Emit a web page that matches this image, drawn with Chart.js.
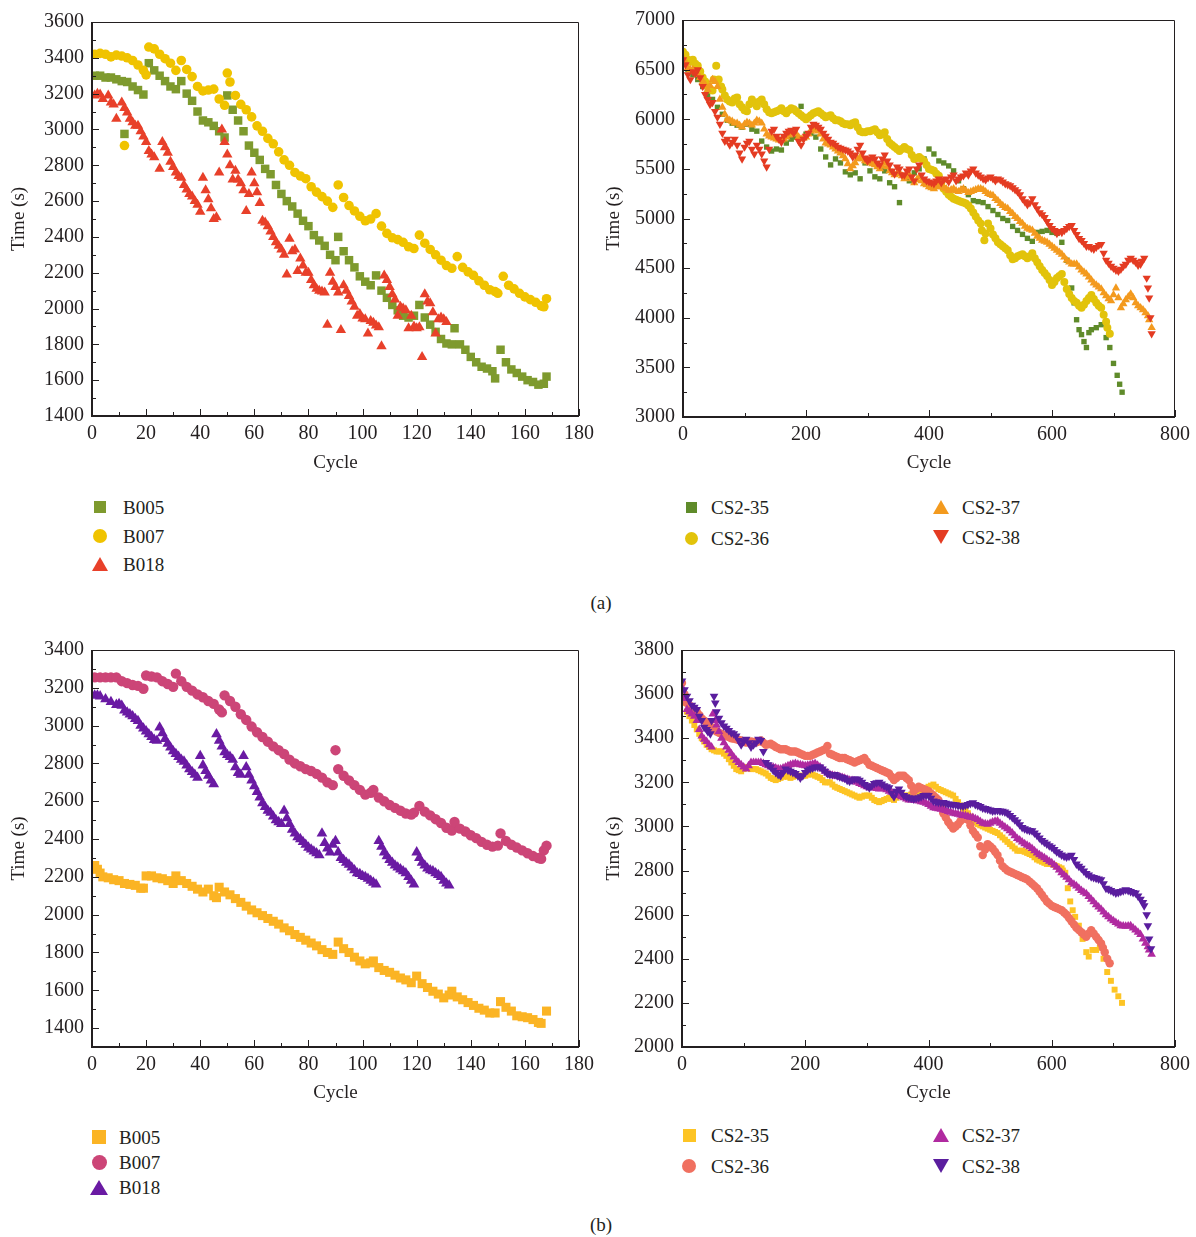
<!DOCTYPE html>
<html>
<head>
<meta charset="utf-8">
<title>Discharge time vs cycle</title>
<script src="https://cdn.jsdelivr.net/npm/chart.js@4.4.1/dist/chart.umd.min.js"></script>
<style>
  body { margin: 0; background: #fff; }
  #page { position: relative; width: 1196px; height: 1237px; font-family: "Liberation Serif", "Times New Roman", serif; color: #231f20; overflow: hidden; }
  #page canvas { position: absolute; }
  .lg { position: absolute; font-size: 19px; line-height: 1; white-space: nowrap; transform: translateY(-50%); }
  .mk { position: absolute; }
  .tag { position: absolute; font-size: 19px; transform: translate(-50%, -50%); }
</style>
</head>
<body>
<div id="page">
  <canvas id="chartA1" width="600" height="480" style="left:0;top:0"></canvas>
  <canvas id="chartA2" width="596" height="480" style="left:600px;top:0"></canvas>
  <canvas id="chartB1" width="600" height="480" style="left:0;top:630px"></canvas>
  <canvas id="chartB2" width="596" height="480" style="left:600px;top:630px"></canvas>
  <div class="tag" style="left:601px;top:603px">(a)</div>
  <div class="tag" style="left:601px;top:1225px">(b)</div>
</div>
<script>
// discharge time per cycle, [cycle, seconds]

// (a) NASA cells
const b005a = [[1,3300],[3,3300],[5,3290],[7,3290],[9,3280],[11,3270],[12,2975],[13,3265],[15,3240],[17,3220],[19,3195],[21,3370],[23,3330],[25,3300],[27,3270],[29,3240],[31,3225],[33,3270],[35,3200],[37,3160],[39,3100],[41,3050],[43,3040],[45,3020],[47,2990],[49,2955],[50,3190],[52,3110],[54,3050],[56,2990],[58,2910],[60,2870],[62,2830],[64,2780],[66,2750],[68,2690],[70,2640],[72,2600],[74,2570],[76,2530],[78,2490],[80,2460],[82,2410],[84,2380],[86,2350],[88,2300],[90,2270],[91,2400],[93,2320],[95,2270],[97,2230],[99,2180],[101,2150],[103,2130],[105,2185],[107,2100],[109,2060],[111,2020],[113,1990],[115,1960],[117,1950],[119,1960],[121,2020],[123,1950],[125,1910],[127,1870],[129,1830],[131,1805],[133,1800],[134,1890],[136,1800],[138,1770],[140,1730],[142,1700],[144,1675],[146,1665],[148,1650],[149,1610],[151,1770],[153,1700],[155,1660],[157,1640],[159,1620],[161,1600],[163,1590],[165,1575],[167,1580],[168,1620]];
const b007a = [[1,3420],[3,3425],[5,3420],[7,3405],[9,3415],[11,3410],[12,2910],[13,3400],[15,3385],[17,3360],[19,3330],[20,3305],[21,3460],[23,3450],[25,3420],[27,3395],[29,3370],[31,3330],[33,3385],[35,3335],[37,3295],[39,3240],[41,3215],[43,3220],[45,3225],[47,3170],[49,3135],[50,3315],[51,3265],[53,3190],[55,3140],[57,3110],[59,3070],[61,3020],[63,2990],[65,2950],[67,2920],[69,2875],[71,2830],[73,2800],[75,2760],[77,2740],[79,2725],[81,2680],[83,2650],[85,2625],[87,2600],[89,2565],[91,2690],[93,2620],[95,2575],[97,2545],[99,2515],[101,2490],[103,2500],[105,2530],[107,2460],[109,2420],[111,2395],[113,2385],[115,2370],[117,2345],[119,2335],[121,2410],[123,2365],[125,2330],[127,2300],[129,2270],[131,2240],[133,2225],[135,2290],[137,2230],[139,2205],[141,2185],[143,2155],[145,2130],[147,2105],[149,2095],[150,2085],[152,2180],[154,2130],[156,2110],[158,2085],[160,2065],[162,2050],[164,2035],[166,2015],[167,2010],[168,2055]];
const b018a = [[1,3190],[2,3200],[3,3195],[4,3170],[6,3190],[7,3150],[8,3140],[9,3060],[11,3150],[12,3120],[13,3095],[14,3060],[15,3040],[16,3020],[17,3020],[18,2990],[19,2960],[20,2930],[21,2880],[22,2860],[23,2845],[25,2780],[26,2930],[27,2900],[28,2870],[29,2820],[30,2790],[31,2760],[32,2740],[33,2730],[34,2690],[35,2665],[36,2640],[37,2625],[38,2600],[39,2580],[40,2540],[41,2730],[42,2660],[43,2610],[44,2560],[45,2500],[46,2510],[47,2760],[48,3000],[49,2930],[50,2860],[51,2800],[52,2720],[53,2770],[54,2720],[55,2700],[56,2660],[57,2545],[58,2640],[59,2760],[60,2700],[61,2650],[62,2590],[63,2490],[64,2480],[65,2460],[66,2430],[67,2400],[68,2370],[69,2350],[70,2330],[71,2300],[72,2190],[73,2390],[74,2320],[75,2330],[76,2210],[77,2280],[78,2240],[79,2200],[80,2200],[81,2160],[82,2130],[83,2110],[84,2100],[85,2095],[86,2090],[87,1910],[88,2200],[89,2150],[90,2120],[91,2090],[92,1880],[93,2130],[94,2100],[95,2070],[96,2040],[97,2010],[98,1960],[99,1970],[100,1945],[101,1940],[102,1860],[103,1930],[104,1920],[105,1905],[106,1895],[107,1790],[108,2185],[109,2160],[110,2120],[111,2080],[112,2050],[113,1960],[114,2010],[115,2000],[116,1990],[117,1890],[118,1960],[119,1900],[120,1890],[121,1895],[122,1730],[123,2080],[124,2040],[125,2030],[126,1980],[127,1860],[128,1940],[129,1950],[130,1940],[131,1925]];

// (a) CALCE cells
const cs35a = [[0,6580],[8,6500],[16,6450],[24,6400],[32,6330],[40,6250],[48,6200],[56,6120],[64,6050],[72,5990],[80,5960],[88,5940],[96,5920],[104,5950],[112,5900],[120,5880],[128,5780],[136,5720],[144,5680],[152,5700],[160,5690],[168,5760],[176,5800],[184,5820],[192,6130],[200,5850],[208,5860],[216,5820],[224,5700],[232,5620],[240,5540],[248,5600],[256,5560],[264,5470],[272,5440],[280,5460],[288,5400],[296,5560],[304,5480],[312,5420],[320,5400],[328,5480],[336,5360],[344,5320],[352,5160],[360,5420],[368,5380],[376,5460],[384,5500],[392,5600],[400,5700],[408,5650],[416,5580],[424,5560],[432,5530],[440,5480],[448,5380],[456,5300],[464,5240],[472,5180],[480,5170],[488,5160],[496,5120],[504,5080],[512,5040],[520,5000],[528,4980],[536,4920],[544,4880],[552,4840],[560,4800],[568,4770],[576,4860],[584,4870],[592,4880],[600,4860],[608,4850],[616,4760],[624,4580],[632,4300],[636,4150],[640,3980],[644,3880],[648,3830],[652,3760],[656,3700],[660,3850],[664,3880],[672,3900],[680,3930],[688,3800],[694,3700],[700,3540],[706,3420],[710,3330],[714,3250]];
const cs36a = [[0,6680],[8,6600],[16,6600],[24,6540],[32,6420],[40,6330],[48,6290],[54,6540],[58,6400],[64,6300],[72,6200],[80,6170],[88,6220],[96,6120],[104,6080],[112,6200],[120,6130],[128,6200],[136,6100],[144,6060],[152,6080],[160,6110],[168,6060],[176,6110],[184,6080],[192,6040],[200,6000],[208,6040],[216,6070],[224,6060],[232,6020],[240,6040],[248,5990],[256,5980],[264,5950],[272,5940],[280,5970],[288,5880],[296,5870],[304,5880],[312,5900],[320,5840],[328,5870],[336,5760],[344,5720],[352,5680],[360,5720],[368,5690],[376,5600],[384,5620],[392,5580],[400,5500],[408,5480],[416,5430],[424,5300],[432,5240],[440,5200],[448,5180],[456,5160],[464,5130],[472,5060],[480,4980],[486,4880],[490,4780],[496,4950],[504,4840],[512,4760],[520,4720],[528,4680],[536,4590],[544,4620],[552,4640],[560,4600],[568,4650],[576,4560],[584,4480],[592,4420],[600,4330],[608,4400],[616,4440],[624,4290],[632,4200],[640,4150],[648,4100],[656,4170],[664,4230],[672,4150],[680,4100],[688,3960],[694,3840],
  [4,6650],[12,6580],[20,6560],[28,6480],[36,6380],[44,6300],[50,6400],[62,6330],[68,6240],[76,6180],[84,6210],[92,6150],[100,6090],[108,6150],[116,6170],[124,6180],[132,6150],[140,6070],[148,6070],[156,6090],[164,6080],[172,6090],[180,6100],[188,6060],[196,6020],[204,6020],[212,6060],[220,6080],[228,6040],[236,6030],[244,6010],[252,5990],[260,5960],[268,5950],[276,5960],[284,5920],[292,5870],[300,5880],[308,5890],[316,5870],[324,5850],[332,5800],[340,5740],[348,5700],[356,5700],[364,5700],[372,5640],[380,5610],[388,5600],[396,5540],[404,5490],[412,5450],[420,5360],[428,5270],[436,5220],[444,5190],[452,5170],[460,5150],[468,5100],[476,5020],[484,4950],[492,4850],[500,4900],[508,4800],[516,4740],[524,4700],[532,4630],[540,4600],[548,4630],[556,4620],[564,4620],[572,4600],[580,4520],[588,4450],[596,4380],[604,4360],[612,4420],[620,4360],[628,4240],[636,4170],[644,4120],[652,4130],[660,4200],[668,4190],[676,4120],[684,4030],[690,3900]];
const cs37a = [[0,6620],[8,6520],[16,6500],[24,6450],[32,6380],[40,6300],[48,6400],[56,6330],[64,6120],[72,6000],[80,5980],[88,5960],[96,5920],[104,5970],[112,5940],[120,5990],[128,5960],[136,5850],[144,5820],[152,5800],[160,5790],[168,5820],[176,5860],[184,5850],[192,5800],[200,5820],[208,5880],[216,5900],[224,5850],[232,5760],[240,5740],[248,5700],[256,5660],[264,5600],[272,5500],[280,5560],[288,5620],[296,5580],[304,5560],[312,5540],[320,5500],[328,5560],[336,5480],[344,5440],[352,5460],[360,5400],[368,5440],[376,5360],[384,5420],[392,5350],[400,5320],[408,5300],[416,5340],[424,5310],[432,5280],[440,5300],[448,5270],[456,5300],[464,5260],[472,5280],[480,5300],[488,5290],[496,5250],[504,5230],[512,5180],[520,5130],[528,5100],[536,5050],[544,5000],[552,4950],[560,4900],[568,4880],[576,4820],[584,4780],[592,4760],[600,4720],[608,4680],[616,4640],[624,4580],[632,4540],[640,4540],[648,4480],[656,4440],[664,4380],[672,4330],[680,4290],[688,4220],[696,4170],[704,4300],[712,4100],[720,4180],[728,4240],[736,4150],[744,4100],[752,4050],[758,3980],[762,3900],
  [4,6580],[12,6500],[20,6480],[28,6420],[36,6350],[44,6340],[52,6380],[60,6200],[68,6050],[76,5990],[84,5960],[92,5940],[100,5950],[108,5960],[116,5960],[124,5980],[132,5900],[140,5830],[148,5810],[156,5790],[164,5800],[172,5840],[180,5860],[188,5820],[196,5810],[204,5850],[212,5890],[220,5880],[228,5800],[236,5750],[244,5720],[252,5680],[260,5630],[268,5550],[276,5530],[284,5600],[292,5600],[300,5570],[308,5550],[316,5520],[324,5530],[332,5520],[340,5460],[348,5450],[356,5430],[364,5420],[372,5400],[380,5390],[388,5380],[396,5340],[404,5310],[412,5320],[420,5320],[428,5300],[436,5290],[444,5280],[452,5290],[460,5280],[468,5270],[476,5290],[484,5300],[492,5270],[500,5240],[508,5200],[516,5150],[524,5110],[532,5070],[540,5020],[548,4970],[556,4920],[564,4890],[572,4850],[580,4800],[588,4770],[596,4740],[604,4700],[612,4660],[620,4610],[628,4560],[636,4540],[644,4510],[652,4460],[660,4410],[668,4350],[676,4310],[684,4250],[692,4190],[700,4230],[708,4200],[716,4140],[724,4210],[732,4200],[740,4120],[748,4080],[756,4020]];
const cs38a = [[0,6600],[8,6450],[16,6480],[24,6500],[32,6330],[40,6200],[48,6170],[56,6020],[64,5860],[72,5800],[80,5770],[88,5740],[96,5600],[104,5760],[112,5700],[120,5740],[128,5650],[136,5520],[144,5880],[152,5830],[160,5770],[168,5860],[176,5890],[184,5900],[192,5740],[200,5830],[208,5920],[216,5940],[224,5900],[232,5830],[240,5770],[248,5740],[256,5710],[264,5690],[272,5660],[280,5640],[288,5740],[296,5610],[304,5600],[312,5600],[320,5540],[328,5640],[336,5540],[344,5450],[352,5500],[360,5440],[368,5500],[376,5380],[384,5540],[392,5400],[400,5370],[408,5350],[416,5400],[424,5390],[432,5370],[440,5440],[448,5400],[456,5430],[464,5440],[472,5500],[480,5440],[488,5400],[496,5410],[504,5400],[512,5400],[520,5370],[528,5340],[536,5310],[544,5270],[552,5200],[560,5140],[568,5200],[576,5100],[584,5040],[592,4970],[600,4900],[608,4850],[616,4860],[624,4900],[632,4930],[640,4840],[648,4780],[656,4720],[664,4700],[672,4710],[680,4740],[688,4580],[696,4520],[704,4480],[712,4490],[720,4540],[728,4600],[736,4560],[744,4540],[750,4600],[754,4400],[756,4300],[758,4200],[760,4000],[762,3840],
  [4,6550],[12,6400],[20,6460],[28,6420],[36,6250],[44,6150],[52,6080],[60,5950],[68,5780],[76,5740],[84,5800],[92,5660],[100,5720],[108,5780],[116,5650],[124,5700],[132,5580],[140,5700],[148,5900],[156,5800],[164,5830],[172,5880],[180,5860],[188,5780],[196,5800],[204,5860],[212,5950],[220,5920],[228,5860],[236,5800],[244,5760],[252,5720],[260,5700],[268,5680],[276,5620],[284,5700],[292,5660],[300,5580],[308,5620],[316,5560],[324,5600],[332,5580],[340,5480],[348,5520],[356,5440],[364,5480],[372,5420],[380,5500],[388,5440],[396,5380],[404,5360],[412,5380],[420,5360],[428,5400],[436,5420],[444,5380],[452,5420],[460,5460],[468,5480],[476,5460],[484,5420],[492,5390],[500,5420],[508,5380],[516,5390],[524,5350],[532,5330],[540,5290],[548,5240],[556,5170],[564,5160],[572,5140],[580,5060],[588,5010],[596,4930],[604,4880],[612,4870],[620,4880],[628,4920],[636,4880],[644,4800],[652,4750],[660,4720],[668,4690],[676,4730],[684,4650],[692,4550],[700,4500],[708,4470],[716,4520],[724,4580],[732,4580],[740,4530],[746,4570]];

// (b) NASA cells
const b005b = [[1,2260],[2,2240],[3,2220],[4,2200],[6,2195],[8,2185],[10,2180],[12,2165],[14,2160],[16,2155],[18,2140],[19,2140],[20,2205],[22,2205],[24,2195],[26,2190],[28,2180],[30,2165],[31,2205],[33,2180],[35,2165],[37,2150],[39,2135],[41,2120],[43,2135],[45,2100],[46,2090],[47,2145],[49,2120],[51,2105],[53,2085],[55,2065],[57,2045],[59,2025],[61,2010],[63,1995],[65,1980],[67,1965],[69,1950],[71,1930],[73,1915],[75,1895],[77,1880],[79,1865],[81,1850],[83,1835],[85,1815],[87,1800],[89,1790],[91,1855],[93,1820],[95,1800],[97,1775],[99,1755],[101,1740],[103,1745],[104,1755],[106,1720],[108,1705],[110,1695],[112,1680],[114,1665],[116,1655],[118,1640],[120,1675],[122,1635],[124,1615],[126,1595],[128,1580],[130,1560],[132,1575],[133,1595],[135,1565],[137,1550],[139,1535],[141,1520],[143,1505],[145,1495],[147,1480],[149,1480],[151,1540],[153,1510],[155,1490],[157,1465],[159,1460],[161,1455],[163,1445],[165,1430],[166,1425],[168,1490]];
const b007b = [[1,3255],[3,3255],[5,3255],[7,3255],[9,3255],[11,3235],[13,3225],[15,3215],[17,3210],[19,3195],[20,3265],[22,3260],[24,3255],[26,3235],[28,3220],[30,3205],[31,3275],[33,3235],[35,3205],[37,3185],[39,3165],[41,3150],[43,3130],[45,3115],[47,3085],[48,3070],[49,3160],[51,3130],[53,3100],[55,3060],[57,3030],[59,2995],[61,2965],[63,2940],[65,2915],[67,2890],[69,2870],[71,2850],[73,2820],[75,2800],[77,2785],[79,2770],[81,2760],[83,2745],[85,2725],[87,2700],[89,2685],[90,2870],[91,2770],[93,2735],[95,2710],[97,2685],[99,2660],[101,2635],[103,2645],[104,2660],[106,2620],[108,2600],[110,2580],[112,2565],[114,2550],[116,2535],[118,2530],[119,2540],[121,2575],[123,2545],[125,2525],[127,2505],[129,2485],[131,2460],[133,2445],[134,2490],[136,2455],[138,2440],[140,2420],[142,2405],[144,2385],[146,2370],[148,2360],[150,2365],[151,2430],[153,2390],[155,2370],[157,2355],[159,2340],[161,2325],[163,2310],[165,2300],[166,2295],[167,2340],[168,2365]];
const b018b = [[1,3160],[2,3160],[3,3155],[5,3140],[7,3125],[9,3110],[10,3115],[11,3105],[12,3080],[13,3070],[14,3060],[15,3050],[16,3035],[17,3025],[18,3000],[19,2985],[20,2970],[21,2955],[22,2940],[23,2925],[24,2920],[25,2990],[26,2960],[27,2930],[28,2905],[29,2885],[30,2865],[31,2850],[32,2835],[33,2820],[34,2810],[35,2790],[36,2770],[37,2755],[38,2740],[39,2725],[40,2840],[41,2790],[42,2760],[43,2735],[44,2710],[45,2690],[46,2955],[47,2920],[48,2890],[49,2860],[50,2845],[51,2835],[52,2820],[53,2780],[54,2750],[55,2740],[56,2840],[57,2780],[58,2740],[59,2710],[60,2680],[61,2650],[62,2620],[63,2590],[64,2570],[65,2550],[66,2540],[67,2520],[68,2500],[69,2490],[70,2480],[71,2550],[72,2510],[73,2480],[74,2450],[75,2430],[76,2410],[77,2400],[78,2385],[79,2370],[80,2355],[81,2345],[82,2335],[83,2325],[84,2315],[85,2430],[86,2380],[87,2350],[88,2330],[89,2370],[90,2390],[91,2330],[92,2300],[93,2290],[94,2275],[95,2265],[96,2250],[97,2235],[98,2220],[99,2215],[100,2205],[101,2200],[102,2190],[103,2180],[104,2170],[105,2160],[106,2390],[107,2360],[108,2330],[109,2310],[110,2290],[111,2275],[112,2260],[113,2250],[114,2240],[115,2230],[116,2220],[117,2200],[118,2180],[119,2160],[120,2330],[121,2300],[122,2275],[123,2260],[124,2245],[125,2235],[126,2230],[127,2220],[128,2210],[129,2200],[130,2180],[131,2165],[132,2155]];

// (b) CALCE cells
const cs35b = [[0,3600],[8,3520],[16,3480],[24,3440],[32,3400],[40,3370],[48,3350],[56,3340],[64,3340],[72,3320],[80,3290],[88,3260],[96,3250],[104,3270],[112,3260],[120,3260],[128,3250],[136,3240],[144,3220],[152,3210],[160,3220],[168,3230],[176,3220],[184,3230],[192,3230],[200,3230],[208,3240],[216,3230],[224,3220],[232,3200],[240,3200],[248,3180],[256,3170],[264,3160],[272,3150],[280,3140],[288,3130],[296,3140],[304,3140],[312,3120],[320,3110],[328,3120],[336,3130],[344,3120],[352,3140],[360,3140],[368,3140],[376,3150],[384,3140],[392,3160],[400,3180],[408,3190],[416,3170],[424,3160],[432,3150],[440,3140],[448,3110],[456,3080],[464,3060],[472,3030],[480,3010],[488,3000],[496,2990],[504,2980],[512,2970],[520,2950],[528,2930],[536,2910],[544,2890],[552,2890],[560,2880],[568,2870],[576,2850],[584,2840],[592,2830],[600,2830],[608,2820],[616,2810],[622,2790],[626,2720],[630,2660],[634,2620],[638,2590],[644,2550],[650,2490],[656,2430],[660,2410],[666,2440],[672,2440],[678,2450],[684,2400],[690,2340],[696,2300],[702,2260],[708,2230],[714,2200],
  [4,3560],[12,3500],[20,3460],[28,3420],[36,3385],[44,3360],[52,3345],[60,3340],[68,3330],[76,3305],[84,3275],[92,3255],[100,3260],[108,3265],[116,3260],[124,3255],[132,3245],[140,3230],[148,3215],[156,3215],[164,3225],[172,3225],[180,3225],[188,3230],[196,3230],[204,3235],[212,3235],[220,3225],[228,3210],[236,3200],[244,3190],[252,3175],[260,3165],[268,3155],[276,3145],[284,3135],[292,3135],[300,3140],[308,3130],[316,3115],[324,3115],[332,3125],[340,3125],[348,3130],[356,3140],[364,3140],[372,3145],[380,3145],[388,3150],[396,3170],[404,3185],[412,3180],[420,3165],[428,3155],[436,3145],[444,3125],[452,3095],[460,3070],[468,3045],[476,3020],[484,3005],[492,2995],[500,2985],[508,2975],[516,2960],[524,2940],[532,2920],[540,2900],[548,2890],[556,2885],[564,2875],[572,2860],[580,2845],[588,2835],[596,2830],[604,2825],[612,2815],[618,2800]];
const cs36b = [[0,3650],[8,3560],[16,3540],[24,3520],[32,3490],[40,3470],[48,3450],[56,3430],[64,3420],[72,3410],[80,3400],[88,3395],[96,3390],[104,3380],[112,3385],[120,3380],[128,3390],[136,3370],[144,3375],[152,3360],[160,3350],[168,3350],[176,3340],[184,3340],[192,3330],[200,3320],[208,3320],[216,3330],[224,3340],[232,3350],[240,3330],[248,3320],[256,3310],[264,3310],[272,3300],[280,3290],[288,3300],[296,3310],[304,3280],[312,3270],[320,3260],[328,3250],[336,3240],[344,3210],[352,3230],[360,3230],[368,3210],[376,3160],[384,3180],[392,3170],[400,3160],[408,3140],[416,3120],[424,3060],[432,3020],[440,2990],[448,3010],[456,3040],[464,3030],[472,2980],[480,2950],[488,2870],[496,2920],[504,2900],[512,2870],[520,2820],[528,2800],[536,2790],[544,2780],[552,2770],[560,2760],[568,2740],[576,2720],[584,2690],[592,2660],[600,2640],[608,2630],[616,2620],[624,2600],[632,2570],[640,2540],[648,2520],[656,2500],[664,2530],[672,2500],[680,2470],[686,2430],[690,2400],[694,2380],
  [4,3600],[12,3550],[20,3530],[28,3505],[36,3480],[44,3460],[52,3440],[60,3425],[68,3415],[76,3405],[84,3398],[92,3392],[100,3385],[108,3382],[116,3383],[124,3385],[132,3380],[140,3372],[148,3368],[156,3355],[164,3350],[172,3345],[180,3340],[188,3335],[196,3325],[204,3320],[212,3325],[220,3335],[228,3345],[236,3365],[244,3325],[252,3315],[260,3310],[268,3305],[276,3295],[284,3295],[292,3305],[300,3295],[308,3275],[316,3265],[324,3255],[332,3245],[340,3225],[348,3220],[356,3230],[364,3220],[372,3185],[380,3170],[388,3175],[396,3165],[404,3150],[412,3130],[420,3090],[428,3040],[436,3005],[444,3000],[452,3025],[460,3035],[468,3005],[476,2965],[484,2910],[492,2895],[500,2910],[508,2885],[516,2845],[524,2810],[532,2795],[540,2785],[548,2775],[556,2765],[564,2750],[572,2730],[580,2705],[588,2675],[596,2650],[604,2635],[612,2625],[620,2610],[628,2585],[636,2555],[644,2530],[652,2510],[660,2515],[668,2515],[676,2485],[683,2450]];
const cs37b = [[0,3630],[8,3530],[16,3510],[24,3480],[32,3410],[40,3385],[48,3360],[50,3510],[56,3460],[64,3400],[72,3360],[80,3330],[88,3300],[96,3280],[104,3260],[112,3290],[120,3290],[128,3290],[136,3280],[144,3270],[152,3265],[160,3260],[168,3270],[176,3280],[184,3285],[192,3280],[200,3275],[208,3280],[216,3285],[224,3270],[232,3250],[240,3235],[248,3230],[256,3225],[264,3218],[272,3210],[280,3205],[288,3195],[296,3185],[304,3175],[312,3175],[320,3170],[328,3172],[336,3160],[344,3150],[352,3140],[360,3130],[368,3120],[376,3120],[384,3115],[392,3110],[400,3100],[408,3085],[416,3080],[424,3075],[432,3068],[440,3060],[448,3055],[456,3050],[464,3045],[472,3040],[480,3030],[488,3015],[496,3010],[504,3020],[512,3025],[520,3005],[528,2990],[536,2970],[544,2945],[552,2930],[560,2915],[568,2900],[576,2880],[584,2865],[592,2850],[600,2835],[608,2815],[616,2790],[624,2770],[632,2745],[640,2730],[648,2710],[656,2695],[664,2670],[672,2645],[680,2625],[688,2600],[696,2580],[704,2565],[712,2550],[720,2548],[728,2550],[736,2530],[744,2510],[752,2470],[758,2440],[762,2420],
  [4,3580],[12,3520],[20,3500],[28,3440],[36,3395],[44,3370],[54,3480],[60,3430],[68,3380],[76,3345],[84,3315],[92,3290],[100,3270],[108,3275],[116,3290],[124,3290],[132,3285],[140,3275],[148,3268],[156,3262],[164,3265],[172,3275],[180,3283],[188,3282],[196,3278],[204,3278],[212,3283],[220,3278],[228,3260],[236,3242],[244,3232],[252,3228],[260,3222],[268,3214],[276,3208],[284,3200],[292,3190],[300,3180],[308,3175],[316,3172],[324,3171],[332,3166],[340,3155],[348,3145],[356,3135],[364,3125],[372,3120],[380,3118],[388,3112],[396,3105],[404,3092],[412,3082],[420,3078],[428,3072],[436,3064],[444,3058],[452,3052],[460,3048],[468,3042],[476,3035],[484,3022],[492,3012],[500,3015],[508,3023],[516,3015],[524,2998],[532,2980],[540,2958],[548,2938],[556,2922],[564,2908],[572,2890],[580,2872],[588,2858],[596,2842],[604,2825],[612,2802],[620,2780],[628,2758],[636,2738],[644,2720],[652,2702],[660,2682],[668,2658],[676,2635],[684,2612],[692,2590],[700,2572],[708,2558],[716,2549],[724,2549],[732,2540],[740,2520],[748,2490],[756,2455]];
const cs38b = [[0,3660],[8,3590],[16,3550],[24,3530],[32,3480],[40,3440],[46,3420],[52,3590],[56,3520],[64,3470],[72,3445],[80,3425],[88,3410],[96,3370],[104,3395],[112,3360],[120,3380],[128,3390],[136,3290],[144,3270],[152,3245],[160,3230],[168,3260],[176,3250],[184,3240],[192,3220],[200,3245],[208,3260],[216,3270],[224,3270],[232,3250],[240,3235],[248,3235],[256,3225],[264,3218],[272,3205],[280,3215],[288,3210],[296,3190],[304,3175],[312,3195],[320,3200],[328,3185],[336,3175],[344,3135],[352,3170],[360,3140],[368,3130],[376,3125],[384,3130],[392,3140],[400,3140],[408,3115],[416,3110],[424,3108],[432,3102],[440,3100],[448,3095],[456,3092],[464,3100],[472,3107],[480,3095],[488,3084],[496,3078],[504,3070],[512,3072],[520,3069],[528,3060],[536,3040],[544,3020],[552,2995],[560,2985],[568,2980],[576,2960],[584,2936],[592,2920],[600,2906],[608,2885],[616,2870],[624,2861],[632,2869],[640,2830],[648,2810],[656,2787],[664,2772],[672,2765],[680,2758],[688,2720],[696,2710],[704,2698],[712,2705],[720,2713],[728,2705],[736,2698],[744,2670],[750,2640],[754,2600],[756,2550],[758,2490],[761,2446],
  [4,3620],[12,3570],[20,3540],[28,3500],[36,3450],[42,3430],[48,3480],[54,3560],[60,3490],[68,3455],[76,3435],[84,3420],[92,3390],[100,3385],[108,3380],[116,3370],[124,3395],[132,3340],[140,3280],[148,3255],[156,3235],[164,3245],[172,3255],[180,3245],[188,3230],[196,3230],[204,3255],[212,3265],[220,3270],[228,3260],[236,3240],[244,3235],[252,3230],[260,3222],[268,3210],[276,3210],[284,3215],[292,3200],[300,3182],[308,3185],[316,3198],[324,3192],[332,3180],[340,3150],[348,3160],[356,3155],[364,3135],[372,3128],[380,3128],[388,3135],[396,3142],[404,3128],[412,3112],[420,3109],[428,3105],[436,3101],[444,3098],[452,3094],[460,3096],[468,3104],[476,3100],[484,3090],[492,3081],[500,3074],[508,3071],[516,3070],[524,3065],[532,3050],[540,3030],[548,3008],[556,2990],[564,2982],[572,2970],[580,2948],[588,2928],[596,2913],[604,2895],[612,2878],[620,2865],[628,2865],[636,2850],[644,2820],[652,2798],[660,2780],[668,2768],[676,2762],[684,2740],[692,2715],[700,2704],[708,2700],[716,2709],[724,2710],[732,2700],[740,2685],[748,2655]];

const ink = '#231f20';
const serif = '"Liberation Serif", "Times New Roman", serif';

// inward tick marks plus the box around the plot
const axisFrame = {
  id: 'axisFrame',
  afterDraw(chart, args, o) {
    const { ctx, chartArea: a, scales: { x, y } } = chart;
    ctx.save();
    ctx.strokeStyle = ink;
    ctx.lineWidth = 1;
    for (let v = x.min; v <= x.max; v += o.xMinor) {
      const px = Math.round(x.getPixelForValue(v)) + 0.5;
      const len = v % o.xMajor === 0 ? 7 : 4;
      ctx.beginPath(); ctx.moveTo(px, a.bottom); ctx.lineTo(px, a.bottom - len); ctx.stroke();
    }
    for (let v = y.min; v <= y.max; v += o.yMinor) {
      const py = Math.round(y.getPixelForValue(v)) + 0.5;
      const len = v % o.yMajor === 0 ? 7 : 4;
      ctx.beginPath(); ctx.moveTo(a.left, py); ctx.lineTo(a.left + len, py); ctx.stroke();
    }
    ctx.beginPath();
    ctx.moveTo(a.left, a.top + 0.5); ctx.lineTo(a.right - 0.5, a.top + 0.5); ctx.lineTo(a.right - 0.5, a.bottom);
    ctx.stroke();
    ctx.lineWidth = 2;
    ctx.beginPath();
    ctx.moveTo(a.left, a.top); ctx.lineTo(a.left, a.bottom); ctx.lineTo(a.right, a.bottom);
    ctx.stroke();
    ctx.restore();
  }
};

function dots(label, pairs, color, style, r) {
  return {
    label,
    data: pairs.map(([c, t]) => ({ x: c, y: t })),
    backgroundColor: color,
    borderColor: color,
    borderWidth: 0,
    pointStyle: style === 'down' ? 'triangle' : style,
    rotation: style === 'down' ? 180 : 0,
    pointRadius: r,
    pointHoverRadius: r
  };
}

function panel(id, frame, axes, sets) {
  const font = { family: serif, size: 19 };
  const tickFont = { family: serif, size: 20 };
  return new Chart(document.getElementById(id), {
    type: 'scatter',
    data: { datasets: sets.map((s, i) => Object.assign(s, { order: sets.length - i })) },
    options: {
      responsive: false,
      animation: false,
      events: [],
      layout: { padding: { top: frame.top, right: frame.right, left: 0, bottom: 0 } },
      plugins: { legend: { display: false }, tooltip: { enabled: false }, axisFrame: axes },
      scales: {
        x: {
          type: 'linear', min: axes.x[0], max: axes.x[1],
          afterFit: s => { s.height = frame.xh; },
          grid: { display: false, drawTicks: false },
          border: { display: false },
          ticks: { stepSize: axes.xMajor, padding: 6, color: ink, font: tickFont, maxRotation: 0, autoSkip: false, callback: v => String(v) },
          title: { display: true, text: 'Cycle', color: ink, font, padding: { top: 0, bottom: 6 } }
        },
        y: {
          type: 'linear', min: axes.y[0], max: axes.y[1],
          afterFit: s => { s.width = frame.yw; },
          // labels only on whole steps, even when the axis starts between them
          afterBuildTicks: s => {
            const t = [];
            for (let v = Math.ceil(s.min / axes.yMajor) * axes.yMajor; v <= s.max; v += axes.yMajor) t.push({ value: v });
            s.ticks = t;
          },
          grid: { display: false, drawTicks: false },
          border: { display: false },
          ticks: { padding: 8, color: ink, font: tickFont, autoSkip: false, callback: v => String(v) },
          title: { display: true, text: 'Time (s)', color: ink, font, padding: { top: frame.tp, bottom: 0 } }
        }
      }
    },
    plugins: [axisFrame]
  });
}

// HTML legend blocks under each plot
function legend(items) {
  const page = document.getElementById('page');
  items.forEach(([name, color, shape, mx, my, tx, s]) => {
    const mk = document.createElement('div');
    mk.className = 'mk';
    if (shape === 'up' || shape === 'down') {
      const w = s + 3, h = s;
      mk.style.left = (mx - w / 2) + 'px';
      mk.style.top = (my - h / 2) + 'px';
      mk.style.borderLeft = mk.style.borderRight = (w / 2) + 'px solid transparent';
      mk.style[shape === 'up' ? 'borderBottom' : 'borderTop'] = h + 'px solid ' + color;
    } else {
      mk.style.left = (mx - s / 2) + 'px';
      mk.style.top = (my - s / 2) + 'px';
      mk.style.width = mk.style.height = s + 'px';
      mk.style.background = color;
      if (shape === 'circle') mk.style.borderRadius = '50%';
    }
    page.appendChild(mk);
    const label = document.createElement('div');
    label.className = 'lg';
    label.style.left = tx + 'px';
    label.style.top = my + 'px';
    label.textContent = name;
    page.appendChild(label);
  });
}

panel('chartA1', { top: 22, right: 18, yw: 92, xh: 64, tp: 8 },
  { x: [0, 180], y: [1400, 3600], xMajor: 20, xMinor: 10, yMajor: 200, yMinor: 100 },
  [dots('B005', b005a, '#7e9a2e', 'rect', 6),
   dots('B007', b007a, '#f0c300', 'circle', 4.8),
   dots('B018', b018a, '#e8402a', 'triangle', 6)]);

panel('chartA2', { top: 17, right: 18, yw: 83, xh: 63, tp: 3 },
  { x: [0, 800], y: [3000, 7000], xMajor: 200, xMinor: 100, yMajor: 500, yMinor: 250 },
  [dots('CS2-35', cs35a, '#5f8b2a', 'rect', 3.8),
   dots('CS2-36', cs36a, '#e2c30b', 'circle', 4),
   dots('CS2-37', cs37a, '#f39a1e', 'triangle', 4.8),
   dots('CS2-38', cs38a, '#e43b22', 'down', 4.8)]);

panel('chartB1', { top: 19, right: 15, yw: 92, xh: 63, tp: 8 },
  { x: [0, 180], y: [1300, 3400], xMajor: 20, xMinor: 10, yMajor: 200, yMinor: 100 },
  [dots('B005', b005b, '#fbb424', 'rect', 6.4),
   dots('B007', b007b, '#cc4577', 'circle', 5.2),
   dots('B018', b018b, '#6a1aa3', 'triangle', 6.2)]);

panel('chartB2', { top: 13, right: 15, yw: 82, xh: 63, tp: 3 },
  { x: [0, 800], y: [2000, 3800], xMajor: 200, xMinor: 100, yMajor: 200, yMinor: 100 },
  [dots('CS2-35', cs35b, '#fdc424', 'rect', 4.2),
   dots('CS2-36', cs36b, '#f07060', 'circle', 4.2),
   dots('CS2-37', cs37b, '#b02aa0', 'triangle', 5),
   dots('CS2-38', cs38b, '#5a1d9e', 'down', 5)]);

legend([
  ['B005', '#7e9a2e', 'rect', 100, 507, 123, 12],
  ['B007', '#f0c300', 'circle', 100, 536, 123, 14],
  ['B018', '#e8402a', 'up', 100, 564, 123, 14],
  ['CS2-35', '#5f8b2a', 'rect', 691, 507, 711, 11],
  ['CS2-36', '#e2c30b', 'circle', 691, 538, 711, 13],
  ['CS2-37', '#f39a1e', 'up', 941, 507, 962, 14],
  ['CS2-38', '#e43b22', 'down', 941, 537, 962, 14],
  ['B005', '#fbb424', 'rect', 99, 1137, 119, 14],
  ['B007', '#cc4577', 'circle', 99, 1162, 119, 15],
  ['B018', '#6a1aa3', 'up', 99, 1187, 119, 15],
  ['CS2-35', '#fdc424', 'rect', 689, 1135, 711, 13],
  ['CS2-36', '#f07060', 'circle', 689, 1166, 711, 14],
  ['CS2-37', '#b02aa0', 'up', 941, 1135, 962, 14],
  ['CS2-38', '#5a1d9e', 'down', 941, 1166, 962, 14]
]);
</script>
</body>
</html>
